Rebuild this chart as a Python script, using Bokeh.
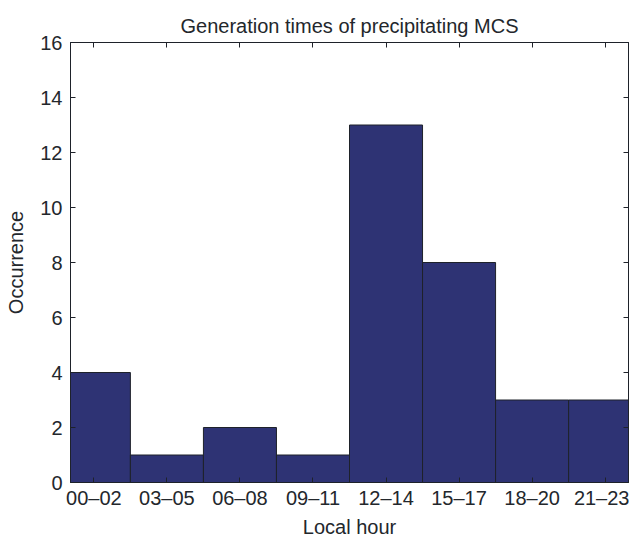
from bokeh.plotting import figure
from bokeh.models import LinearAxis, FixedTicker, ColumnDataSource, Range1d, Title
from bokeh.embed import file_html
from bokeh.resources import INLINE

# Data
categories = ["00–02", "03–05", "06–08", "09–11", "12–14", "15–17", "18–20", "21–23"]
occurrence = [4, 1, 2, 1, 13, 8, 3, 3]
y_ticks = [0, 2, 4, 6, 8, 10, 12, 14, 16]

positions = list(range(1, len(categories) + 1))
src = ColumnDataSource(dict(x=positions, top=occurrence, label=categories))

FONT = "Liberation Sans"
TXT = "#23272c"
LINE = "#1e222a"

p = figure(width=629, height=540, output_backend="svg", toolbar_location=None,
           x_range=Range1d(0.68, 8.32), y_range=Range1d(0, 16),
           min_border_left=70, min_border_right=1, min_border_top=42, min_border_bottom=55,
           x_axis_type=None, y_axis_type=None)

p.title = Title(text="Generation times of precipitating MCS", align="center",
                text_font=FONT, text_font_size="20px", text_font_style="normal",
                text_color=TXT, standoff=12)

p.vbar(x="x", top="top", bottom=0, width=1.0, source=src,
       fill_color="#2e3374", line_color=LINE, line_width=1)

p.xgrid.visible = False
p.ygrid.visible = False
p.outline_line_color = LINE
p.outline_line_width = 1
p.background_fill_color = "white"
p.border_fill_color = "white"

xt = FixedTicker(ticks=positions)
yt = FixedTicker(ticks=y_ticks)
overrides = {pos: lab for pos, lab in zip(positions, categories)}

def style(ax, labels=True):
    ax.major_tick_in = 5
    ax.major_tick_out = 0
    ax.minor_tick_line_color = None
    ax.axis_line_color = LINE
    ax.major_tick_line_color = LINE
    ax.major_label_text_font = FONT
    ax.major_label_text_font_size = "20px" if labels else "0px"
    ax.major_label_text_color = TXT
    ax.axis_label_text_font = FONT
    ax.axis_label_text_font_size = "20px"
    ax.axis_label_text_font_style = "normal"
    ax.axis_label_text_color = TXT
    if not labels:
        ax.major_label_standoff = 0

bottom = LinearAxis(ticker=xt, axis_label="Local hour", major_label_overrides=overrides)
style(bottom)
bottom.major_label_standoff = 4
bottom.axis_label_standoff = 4
p.add_layout(bottom, "below")

left = LinearAxis(ticker=yt, axis_label="Occurrence")
style(left)
left.major_label_standoff = 8
left.axis_label_standoff = 10
p.add_layout(left, "left")

top = LinearAxis(ticker=xt, major_label_overrides={pos: "" for pos in positions})
style(top, labels=False)
p.add_layout(top, "above")

right = LinearAxis(ticker=yt, major_label_overrides={t: "" for t in y_ticks})
style(right, labels=False)
p.add_layout(right, "right")

open("out.html", "w").write(file_html(p, INLINE))
